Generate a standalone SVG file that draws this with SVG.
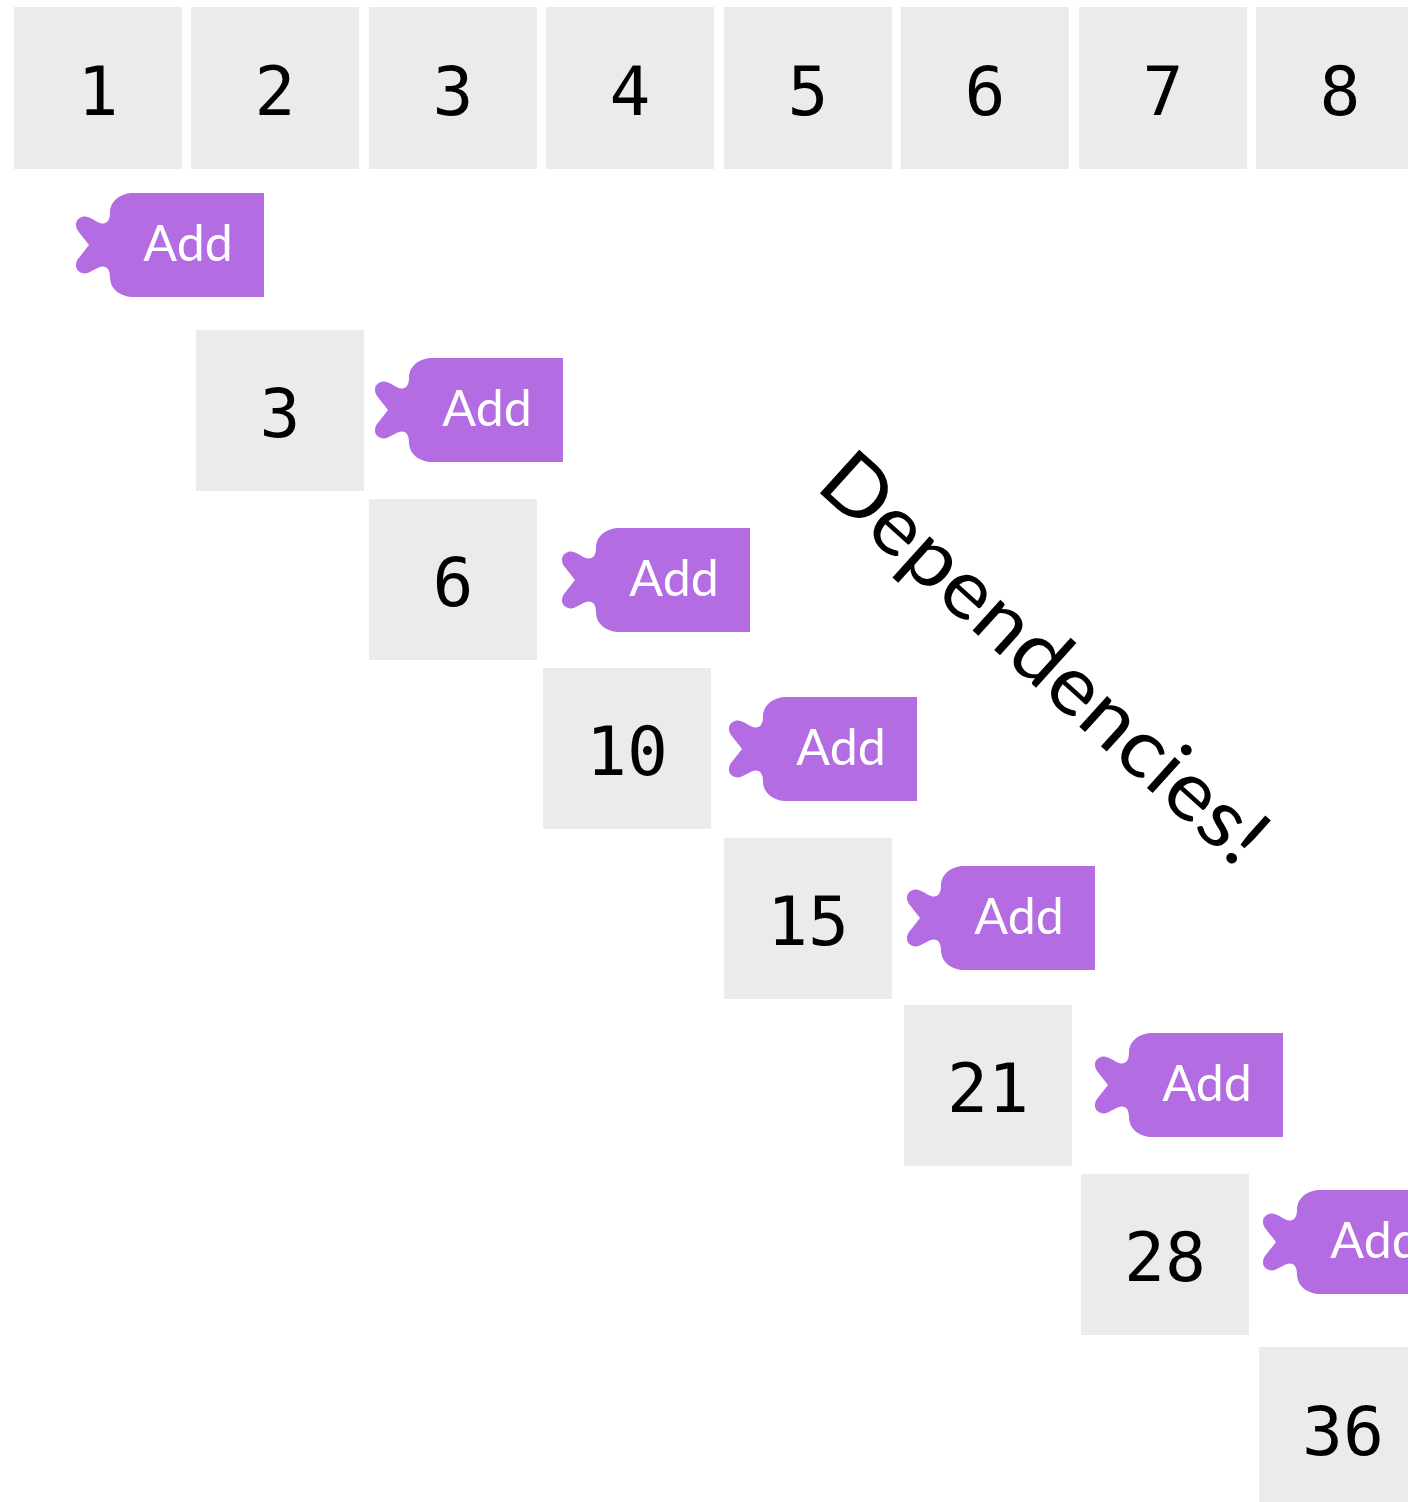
<svg xmlns="http://www.w3.org/2000/svg" xmlns:xlink="http://www.w3.org/1999/xlink" width="1408" height="1502" viewBox="0 0 1408 1502">
<style>
.box{fill:#EBEBEB}
.num{font-family:"DejaVu Sans Mono","Liberation Mono",monospace;font-size:68px;fill:#000;text-anchor:middle}
.tag{fill:#B46CE2}
.add{font-family:Lato,"Open Sans",sans-serif;font-size:50px;fill:#fff;text-anchor:middle}
.big{font-family:Lato,"Open Sans",sans-serif;font-size:82px;fill:#000}
</style>
<defs>
<path id="tagShape" d="M154 0 H24 C10 0 0 8 0 20 C0 28 -4 32 -10 30 C-16 28 -22 22 -28 24 C-34 26 -36 32 -32 38 L-21 52 L-32 66 C-36 72 -34 78 -28 80 C-22 82 -16 76 -10 74 C-4 72 0 76 0 84 C0 96 10 104 24 104 H154 Z"/>
</defs>
<rect width="1408" height="1502" fill="#fff"/>
<g id="row">
<g id="in1"><rect class="box" x="14" y="7" width="168" height="162"/><text class="num" x="98" y="115">1</text></g>
<g id="in2"><rect class="box" x="191" y="7" width="168" height="162"/><text class="num" x="275" y="115">2</text></g>
<g id="in3"><rect class="box" x="369" y="7" width="168" height="162"/><text class="num" x="453" y="115">3</text></g>
<g id="in4"><rect class="box" x="546" y="7" width="168" height="162"/><text class="num" x="630" y="115">4</text></g>
<g id="in5"><rect class="box" x="724" y="7" width="168" height="162"/><text class="num" x="808" y="115">5</text></g>
<g id="in6"><rect class="box" x="901" y="7" width="168" height="162"/><text class="num" x="985" y="115">6</text></g>
<g id="in7"><rect class="box" x="1079" y="7" width="168" height="162"/><text class="num" x="1163" y="115">7</text></g>
<g id="in8"><rect class="box" x="1256" y="7" width="168" height="162"/><text class="num" x="1340" y="115">8</text></g>
</g>
<g id="add1"><use href="#tagShape" class="tag" transform="translate(110,193)"/><text class="add" x="188" y="261">Add</text></g>
<g id="add2"><use href="#tagShape" class="tag" transform="translate(409,358)"/><text class="add" x="487" y="426">Add</text></g>
<g id="add3"><use href="#tagShape" class="tag" transform="translate(596,528)"/><text class="add" x="674" y="596">Add</text></g>
<g id="add4"><use href="#tagShape" class="tag" transform="translate(763,697)"/><text class="add" x="841" y="765">Add</text></g>
<g id="add5"><use href="#tagShape" class="tag" transform="translate(941,866)"/><text class="add" x="1019" y="934">Add</text></g>
<g id="add6"><use href="#tagShape" class="tag" transform="translate(1129,1033)"/><text class="add" x="1207" y="1101">Add</text></g>
<g id="add7"><use href="#tagShape" class="tag" transform="translate(1297,1190)"/><text class="add" x="1375" y="1258">Add</text></g>
<g id="sum3"><rect class="box" x="196" y="330" width="168" height="161"/><text class="num" x="280" y="437">3</text></g>
<g id="sum6"><rect class="box" x="369" y="499" width="168" height="161"/><text class="num" x="453" y="606">6</text></g>
<g id="sum10"><rect class="box" x="543" y="668" width="168" height="161"/><text class="num" x="627" y="775">10</text></g>
<g id="sum15"><rect class="box" x="724" y="838" width="168" height="161"/><text class="num" x="808" y="945">15</text></g>
<g id="sum21"><rect class="box" x="904" y="1005" width="168" height="161"/><text class="num" x="988" y="1112">21</text></g>
<g id="sum28"><rect class="box" x="1081" y="1174" width="168" height="161"/><text class="num" x="1165" y="1281">28</text></g>
<g id="sum36"><rect class="box" x="1259" y="1347" width="168" height="161"/><text class="num" x="1343" y="1455">36</text></g>
<g id="label"><text class="big" transform="translate(814,488) rotate(42)" textLength="570" lengthAdjust="spacingAndGlyphs">Dependencies!</text></g>
</svg>
